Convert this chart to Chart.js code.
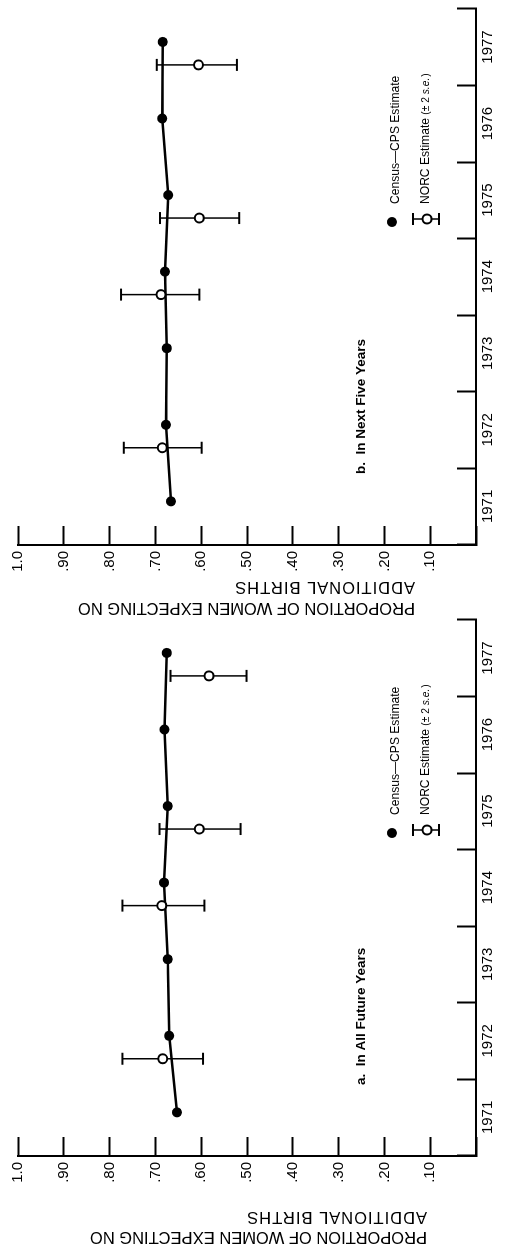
<!DOCTYPE html>
<html>
<head>
<meta charset="utf-8">
<script src="https://cdn.jsdelivr.net/npm/chart.js@4/dist/chart.umd.min.js"></script>
<style>
  html, body { margin: 0; width: 529px; height: 1252px; overflow: hidden; background: #fff; }
  /* the figure is laid out landscape and turned a quarter turn counter-clockwise */
  #page { position: absolute; left: 0; top: 0; width: 1252px; height: 529px;
          transform-origin: 0 0; transform: translate(0, 1252px) rotate(-90deg); }
  canvas { position: absolute; top: 0; }
  #panelA { left: 0; }
  #panelB { left: 611px; }
</style>
</head>
<body>
<div id="page">
  <canvas id="panelA" width="640" height="529"></canvas>
  <canvas id="panelB" width="640" height="529"></canvas>
</div>
<script>
const years = [1971, 1972, 1973, 1974, 1975, 1976, 1977];
const cpsOffset = 0.57;   // CPS survey taken mid-year
const cpsAllFuture = [0.653, 0.670, 0.673, 0.681, 0.673, 0.680, 0.675];
const cpsNextFive = [0.666, 0.677, 0.675, 0.679, 0.672, 0.685, 0.684];

const norcYears = [1972, 1974, 1975, 1977];
const norcOffset = 0.27;  // NORC survey early in the year
const norcAllFuture = [0.684, 0.686, 0.604, 0.583];
const norcAllFutureLow = [0.596, 0.593, 0.514, 0.501];
const norcAllFutureHigh = [0.772, 0.772, 0.691, 0.667];
const norcNextFive = [0.685, 0.688, 0.604, 0.606];
const norcNextFiveLow = [0.599, 0.604, 0.517, 0.522];
const norcNextFiveHigh = [0.769, 0.775, 0.690, 0.697];

const yTicks = [0.1, 0.2, 0.3, 0.4, 0.5, 0.6, 0.7, 0.8, 0.9, 1.0];
const yTitle = ["PROPORTION OF WOMEN EXPECTING NO", "ADDITIONAL BIRTHS"];

const FONT = "'Liberation Sans', Arial, Helvetica, sans-serif";

// texts that sit on the plot: axis title, panel label, key
const notes = {
  id: "notes",
  afterDraw(chart, args, o) {
    const ctx = chart.ctx;
    ctx.save();
    ctx.fillStyle = "#000";
    ctx.strokeStyle = "#000";

    // axis title, rotated like a normal y title
    ctx.font = "16.5px " + FONT;
    ctx.textAlign = "left";
    ctx.textBaseline = "alphabetic";
    yTitle.forEach((line, i) => {
      ctx.save();
      ctx.letterSpacing = i === 1 ? "1px" : "0px";
      ctx.translate(o.titleX[i], o.titleStart);
      ctx.rotate(-Math.PI / 2);
      ctx.fillText(line, 0, 0);
      ctx.restore();
    });

    // panel label
    ctx.font = "bold 13.5px " + FONT;
    ctx.fillText(o.label, 167, 365);

    // key: census dot
    ctx.beginPath();
    ctx.arc(419, 392, 5, 0, Math.PI * 2);
    ctx.fill();
    ctx.save();
    ctx.translate(437, 399);
    ctx.scale(0.93, 1);
    ctx.font = "13px " + FONT;
    ctx.fillText("Census\u2014CPS Estimate", 0, 0);
    ctx.restore();

    // key: NORC symbol
    ctx.lineWidth = 1.5;
    ctx.beginPath();
    ctx.moveTo(422, 413); ctx.lineTo(422, 439);
    ctx.stroke();
    ctx.lineWidth = 2;
    ctx.beginPath();
    ctx.moveTo(416, 413); ctx.lineTo(428, 413);
    ctx.moveTo(416, 439); ctx.lineTo(428, 439);
    ctx.stroke();
    ctx.beginPath();
    ctx.arc(422, 427, 4.5, 0, Math.PI * 2);
    ctx.fillStyle = "#fff";
    ctx.fill();
    ctx.stroke();
    ctx.fillStyle = "#000";
    ctx.save();
    ctx.translate(437, 429);
    ctx.scale(0.93, 1);
    ctx.font = "13px " + FONT;
    ctx.fillText("NORC Estimate ", 0, 0);
    let w = ctx.measureText("NORC Estimate ").width;
    ctx.font = "11px " + FONT;
    ctx.fillText("(\u00b1 2 ", w, 0);
    w += ctx.measureText("(\u00b1 2 ").width;
    ctx.font = "italic 11px " + FONT;
    ctx.fillText("s.e.", w, 0);
    w += ctx.measureText("s.e.").width;
    ctx.font = "11px " + FONT;
    ctx.fillText(")", w + 1, 0);
    ctx.restore();

    ctx.restore();
  }
};

function makePanel(id, label, cps, norc, norcLow, norcHigh, titleX, titleStart) {
  const datasets = [
    {
      label: "NORC Estimate",
      data: norcYears.map((y, i) => ({ x: y + norcOffset, y: norc[i] })),
      showLine: false,
      pointRadius: 4.5,
      pointBorderWidth: 2,
      pointBorderColor: "#000",
      pointBackgroundColor: "#fff",
      order: 0
    },
    {
      label: "Census-CPS Estimate",
      data: years.map((y, i) => ({ x: y + cpsOffset, y: cps[i] })),
      borderColor: "#000",
      borderWidth: 2.5,
      pointRadius: 5,
      pointBorderWidth: 0,
      pointBackgroundColor: "#000",
      order: 1
    }
  ];
  // error bars: +/- 2 s.e. with caps
  norcYears.forEach((y, i) => {
    datasets.push({
      label: "err" + y,
      data: [{ x: y + norcOffset, y: norcLow[i] }, { x: y + norcOffset, y: norcHigh[i] }],
      borderColor: "#000",
      borderWidth: 1.5,
      pointStyle: "line",
      pointRadius: 6,
      pointBorderWidth: 2,
      pointBorderColor: "#000",
      order: 2
    });
  });

  return new Chart(document.getElementById(id), {
    type: "line",
    data: { datasets },
    plugins: [notes],
    options: {
      responsive: false,
      animation: false,
      events: [],
      devicePixelRatio: 1,
      layout: { padding: { top: 18, right: 4, bottom: 0, left: 0 } },
      plugins: {
        legend: { display: false },
        tooltip: { enabled: false },
        notes: { label, titleX, titleStart }
      },
      scales: {
        x: {
          type: "linear",
          min: 1971,
          max: 1978,
          // inward ticks need a big label padding; keep it out of the layout
          afterFit(s) { s.height = 53; s.paddingLeft = 0; s.paddingRight = 0; },
          border: { color: "#000", width: 2 },
          grid: { drawOnChartArea: false, tickLength: -19, tickWidth: 2, tickColor: "#000" },
          ticks: {
            stepSize: 1,
            autoSkip: false,
            maxRotation: 0,
            labelOffset: 38.6,
            padding: 22,
            color: "#000",
            font: { family: FONT, size: 15 },
            callback: v => (years.includes(v) ? String(v) : "")
          }
        },
        y: {
          min: 0,
          max: 1,
          afterFit(s) { s.width = 96; s.paddingTop = 9; s.paddingBottom = 0; },
          afterBuildTicks(s) { s.ticks = [{ value: 0 }].concat(yTicks.map(v => ({ value: v }))); },
          border: { color: "#000", width: 2 },
          grid: { drawOnChartArea: false, tickLength: -19, tickWidth: 2, tickColor: "#000" },
          ticks: {
            padding: 25,
            color: "#000",
            font: { family: FONT, size: 15 },
            callback: v => {
              if (v === 0) return "";
              if (v === 1) return "1.0";
              return "." + Math.round(v * 100);
            }
          }
        }
      }
    }
  });
}

makePanel("panelA", "a.  In All Future Years", cpsAllFuture, norcAllFuture,
  norcAllFutureLow, norcAllFutureHigh, [20, 40], 427);
makePanel("panelB", "b.  In Next Five Years", cpsNextFive, norcNextFive,
  norcNextFiveLow, norcNextFiveHigh, [38, 59], 415);
</script>
</body>
</html>
